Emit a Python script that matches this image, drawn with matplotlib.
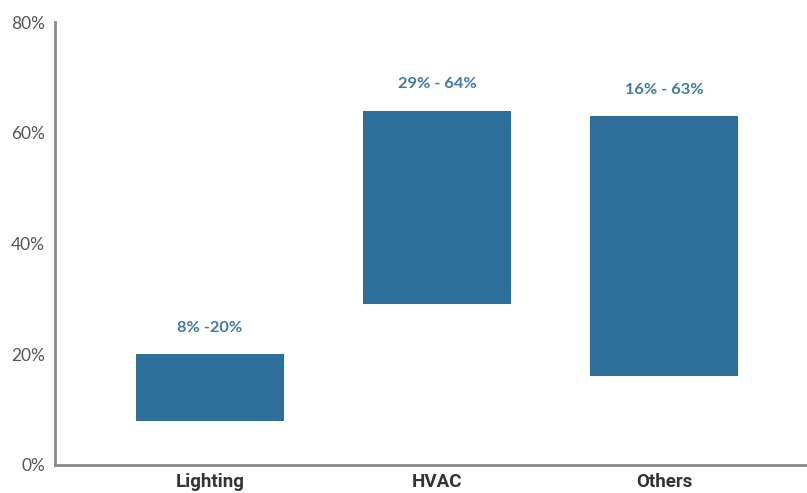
import matplotlib.pyplot as plt
import numpy as np

categories = ['Lighting', 'HVAC', 'Others']
low = [8, 29, 16]
high = [20, 64, 63]
labels = ['8% -20%', '29% - 64%', '16% - 63%']
yticks = [0, 20, 40, 60, 80]

fig = plt.figure(figsize=(8.07, 4.93), dpi=100)
ax = fig.add_axes([0.068, 0.057, 0.932, 0.898])

x = np.arange(len(categories))
heights = [h - l for h, l in zip(high, low)]
ax.bar(x, heights, bottom=low, width=0.65, color='#2e6e9b')

for xi, top, txt in zip(x, high, labels):
    ax.annotate(txt, (xi, top), xytext=(0, 19), textcoords='offset points',
                ha='center', va='center', fontsize=11.8, fontweight='bold',
                color='#3f7ba4', family='Lato')

ax.set_ylim(0, 80)
ax.set_xlim(-0.683, 2.63)
ax.set_yticks(yticks)
ax.set_yticklabels([f'{t}%' for t in yticks], fontsize=12.5, color='#555555', family='Lato')
ax.set_xticks(x)
ax.set_xticklabels(categories, fontsize=13.5, fontweight='bold', color='#333333', family='Roboto')
ax.tick_params(axis='y', length=0, pad=7)
ax.tick_params(axis='x', length=0, pad=6)

for s in ['top', 'right']:
    ax.spines[s].set_visible(False)
for s in ['left', 'bottom']:
    ax.spines[s].set_color('#8a8a8a')
    ax.spines[s].set_linewidth(2)

fig.savefig('out.png', dpi=100)
